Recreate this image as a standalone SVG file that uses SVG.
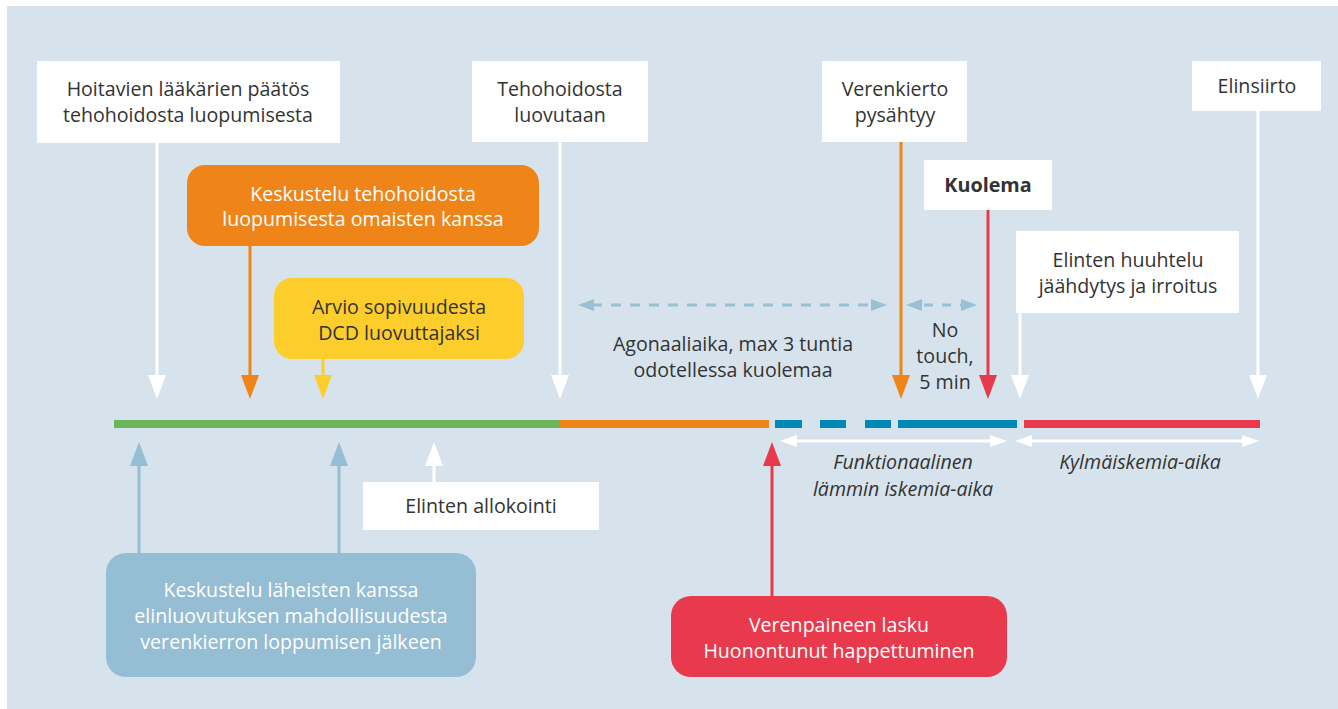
<svg xmlns="http://www.w3.org/2000/svg" width="1338" height="709" viewBox="0 0 1338 709">
<style>
text{font-family:"Open Sans","Noto Sans","Liberation Sans",sans-serif;font-size:19.6px;text-anchor:middle;fill:#333}
.w{fill:#fff}
.it{font-style:italic}
.b{font-weight:bold;font-size:19.8px}
.box{fill:#fff}
</style>
<rect x="7" y="6" width="1331" height="703" fill="#d7e3ec"/>

<g id="connectors">
<line x1="157" y1="143" x2="157" y2="378" stroke="#fff" stroke-width="3"/>
<polygon points="148,375 166,375 157,399" fill="#fff"/>
<line x1="250" y1="246" x2="250" y2="378" stroke="#ef8418" stroke-width="3"/>
<polygon points="241,375 259,375 250,399" fill="#ef8418"/>
<line x1="323" y1="359" x2="323" y2="378" stroke="#fdcd2b" stroke-width="3"/>
<polygon points="314,375 332,375 323,399" fill="#fdcd2b"/>
<line x1="560" y1="142" x2="560" y2="378" stroke="#fff" stroke-width="3"/>
<polygon points="551,375 569,375 560,399" fill="#fff"/>
<line x1="901" y1="142" x2="901" y2="378" stroke="#ef8418" stroke-width="3"/>
<polygon points="892,375 910,375 901,399" fill="#ef8418"/>
<line x1="988" y1="210" x2="988" y2="378" stroke="#e83a4c" stroke-width="3"/>
<polygon points="979,375 997,375 988,399" fill="#e83a4c"/>
<line x1="1020" y1="313" x2="1020" y2="378" stroke="#fff" stroke-width="3"/>
<polygon points="1011,375 1029,375 1020,399" fill="#fff"/>
<line x1="1258" y1="111" x2="1258" y2="378" stroke="#fff" stroke-width="3"/>
<polygon points="1249,375 1267,375 1258,399" fill="#fff"/>

<line x1="114" y1="424" x2="559" y2="424" stroke="#6db75b" stroke-width="8"/>
<line x1="559" y1="424" x2="769" y2="424" stroke="#ef8418" stroke-width="8"/>
<line x1="775" y1="424" x2="802" y2="424" stroke="#0089b5" stroke-width="8"/>
<line x1="820" y1="424" x2="846" y2="424" stroke="#0089b5" stroke-width="8"/>
<line x1="865" y1="424" x2="891" y2="424" stroke="#0089b5" stroke-width="8"/>
<line x1="898" y1="424" x2="1017" y2="424" stroke="#0089b5" stroke-width="8"/>
<line x1="1024" y1="424" x2="1260" y2="424" stroke="#e83a4c" stroke-width="8"/>

<line x1="592" y1="305" x2="872" y2="305" stroke="#9ac0d4" stroke-width="3" stroke-dasharray="10,9"/>
<polygon points="578,305 594,299 594,311" fill="#9ac0d4"/>
<polygon points="887,305 871,299 871,311" fill="#9ac0d4"/>
<line x1="921" y1="305" x2="962" y2="305" stroke="#9ac0d4" stroke-width="3" stroke-dasharray="9,9" stroke-dashoffset="-3"/>
<polygon points="906,305 922,299 922,311" fill="#9ac0d4"/>
<polygon points="977,305 961,299 961,311" fill="#9ac0d4"/>

<line x1="795" y1="441" x2="1000" y2="441" stroke="#fff" stroke-width="3"/>
<polygon points="780,441 797,435 797,447" fill="#fff"/>
<polygon points="1007,441 990,435 990,447" fill="#fff"/>
<line x1="1030" y1="441" x2="1245" y2="441" stroke="#fff" stroke-width="3"/>
<polygon points="1015,441 1032,435 1032,447" fill="#fff"/>
<polygon points="1259,441 1242,435 1242,447" fill="#fff"/>

<line x1="139" y1="553" x2="139" y2="462" stroke="#95bdd3" stroke-width="3"/>
<polygon points="130,466 148,466 139,442" fill="#95bdd3"/>
<line x1="339" y1="553" x2="339" y2="462" stroke="#95bdd3" stroke-width="3"/>
<polygon points="330,466 348,466 339,442" fill="#95bdd3"/>
<line x1="434" y1="482" x2="434" y2="462" stroke="#fff" stroke-width="3"/>
<polygon points="425,466 443,466 434,442" fill="#fff"/>
<line x1="772" y1="597" x2="772" y2="462" stroke="#e83a4c" stroke-width="3"/>
<polygon points="763,466 781,466 772,442" fill="#e83a4c"/>
</g>

<g id="n-hoitavien">
<rect class="box" x="37" y="61" width="303" height="82"/>
<text x="188" y="96">Hoitavien lääkärien päätös</text>
<text x="188" y="122">tehohoidosta luopumisesta</text>
</g>
<g id="n-keskustelu-teho">
<rect x="187" y="165" width="352" height="81" rx="18" fill="#ef8418"/>
<text class="w" x="363" y="201">Keskustelu tehohoidosta</text>
<text class="w" x="363" y="226">luopumisesta omaisten kanssa</text>
</g>
<g id="n-arvio">
<rect x="274" y="278" width="250" height="81" rx="18" fill="#fdcd2b"/>
<text x="399" y="314">Arvio sopivuudesta</text>
<text x="399" y="340">DCD luovuttajaksi</text>
</g>
<g id="n-tehohoidosta">
<rect class="box" x="472" y="61" width="176" height="81"/>
<text x="560" y="96">Tehohoidosta</text>
<text x="560" y="122">luovutaan</text>
</g>
<g id="n-verenkierto">
<rect class="box" x="822" y="61" width="145" height="81"/>
<text x="895" y="96">Verenkierto</text>
<text x="895" y="122">pysähtyy</text>
</g>
<g id="n-kuolema">
<rect class="box" x="924" y="160" width="128" height="50"/>
<text class="b" x="988" y="192">Kuolema</text>
</g>
<g id="n-huuhtelu">
<rect class="box" x="1016" y="231" width="223" height="82"/>
<text x="1128" y="267">Elinten huuhtelu</text>
<text x="1128" y="293">jäähdytys ja irroitus</text>
</g>
<g id="n-elinsiirto">
<rect class="box" x="1192" y="61" width="129" height="50"/>
<text x="1257" y="93">Elinsiirto</text>
</g>
<g id="n-agonaali">
<text x="733" y="351">Agonaaliaika, max 3 tuntia</text>
<text x="733" y="377">odotellessa kuolemaa</text>
</g>
<g id="n-notouch">
<text x="945" y="337">No</text>
<text x="945" y="363">touch,</text>
<text x="945" y="389">5 min</text>
</g>
<g id="n-funktionaalinen">
<text class="it" x="903" y="469">Funktionaalinen</text>
<text class="it" x="903" y="496">lämmin iskemia-aika</text>
</g>
<g id="n-kylma">
<text class="it" x="1140" y="469">Kylmäiskemia-aika</text>
</g>
<g id="n-allokointi">
<rect class="box" x="363" y="482" width="236" height="48"/>
<text x="481" y="513">Elinten allokointi</text>
</g>
<g id="n-keskustelu-laheisten">
<rect x="106" y="553" width="370" height="124" rx="20" fill="#95bdd3"/>
<text class="w" x="291" y="597">Keskustelu läheisten kanssa</text>
<text class="w" x="291" y="623">elinluovutuksen mahdollisuudesta</text>
<text class="w" x="291" y="649">verenkierron loppumisen jälkeen</text>
</g>
<g id="n-verenpaine">
<rect x="671" y="596" width="336" height="81" rx="20" fill="#e83a4c"/>
<text class="w" x="839" y="632">Verenpaineen lasku</text>
<text class="w" x="839" y="658">Huonontunut happettuminen</text>
</g>
</svg>
